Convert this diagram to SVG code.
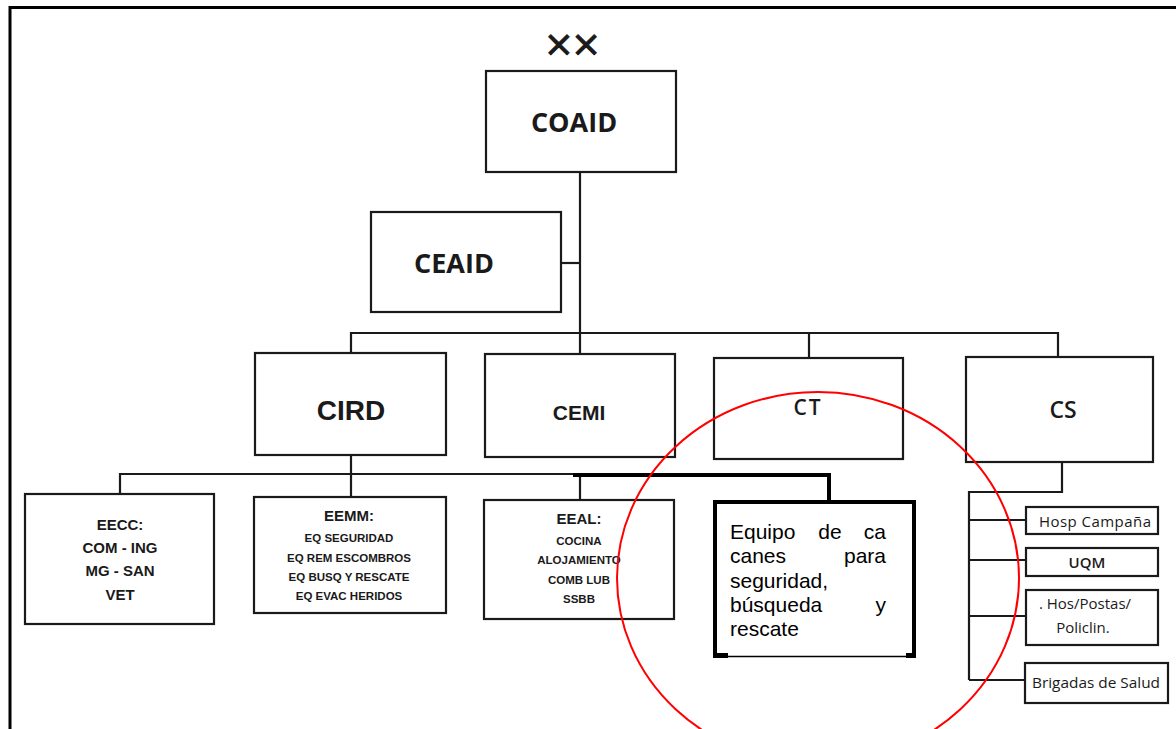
<svg xmlns="http://www.w3.org/2000/svg" width="1176" height="729" viewBox="0 0 1176 729">
<style>
.box{fill:#fff;stroke:#1a1a1a;stroke-width:2.2}
.ln{fill:none;stroke:#1a1a1a;stroke-width:2.2}
.cal{font-family:"Open Sans","Noto Sans",sans-serif;fill:#1a1a1a;text-anchor:middle}
.ar{font-family:"Liberation Sans",Arial,sans-serif;font-weight:bold;fill:#1a1a1a;text-anchor:middle}
.eq{font-family:"Liberation Sans",Arial,sans-serif;font-size:21px;fill:#000}
</style>
<rect width="1176" height="729" fill="#fff"/>
<path d="M10,729 V7.5 H1176" fill="none" stroke="#000" stroke-width="3"/>

<g id="connectors">
<path class="ln" d="M580,172 V354"/>
<path class="ln" d="M561,263 H580"/>
<path class="ln" d="M351,353 V333 H1058 V357"/>
<path class="ln" d="M809,333 V358"/>
<path class="ln" d="M351,455 V497"/>
<path class="ln" d="M120,494 V474 H580 V500"/>
<path d="M573,475 H829 V502" fill="none" stroke="#000" stroke-width="4"/>
<path class="ln" d="M1062,462 V492 H969 V680"/>
<path class="ln" d="M969,520 H1026 M969,560 H1026 M969,616 H1026 M969,680 H1025"/>
</g>

<g id="xx"><text x="571" y="56" font-size="36" font-family="DejaVu Sans,sans-serif" text-anchor="middle" letter-spacing="-3" fill="#1a1a1a" stroke="#1a1a1a" stroke-width="1">××</text></g>

<g id="coaid"><rect class="box" x="486" y="71" width="190" height="101"/><text class="cal" x="574" y="132" font-size="27" font-weight="bold">COAID</text></g>
<g id="ceaid"><rect class="box" x="371" y="212" width="190" height="100"/><text class="cal" x="454" y="273" font-size="27" font-weight="bold">CEAID</text></g>
<g id="cird"><rect class="box" x="255" y="353" width="191" height="102"/><text class="ar" x="351" y="420" font-size="28">CIRD</text></g>
<g id="cemi"><rect class="box" x="485" y="354" width="190" height="103"/><text class="ar" x="579" y="420" font-size="21">CEMI</text></g>
<g id="ct"><rect class="box" x="714" y="358" width="189" height="101"/><text class="cal" x="808" y="415" font-size="21" font-weight="600" letter-spacing="2">CT</text></g>
<g id="cs"><rect class="box" x="966" y="357" width="187" height="105"/><text class="cal" x="1063" y="418" font-size="23" font-weight="600">CS</text></g>

<g id="eecc"><rect class="box" x="25" y="494" width="189" height="130"/>
<text class="ar" font-size="15"><tspan x="120" y="530">EECC:</tspan><tspan x="120" y="553">COM - ING</tspan><tspan x="120" y="576">MG - SAN</tspan><tspan x="120" y="600">VET</tspan></text></g>

<g id="eemm"><rect class="box" x="254" y="497" width="192" height="116"/>
<text class="ar" x="349" y="521" font-size="15">EEMM:</text>
<text class="ar" font-size="11.5"><tspan x="349" y="542">EQ SEGURIDAD</tspan><tspan x="349" y="562">EQ REM ESCOMBROS</tspan><tspan x="349" y="581">EQ BUSQ Y RESCATE</tspan><tspan x="349" y="600">EQ EVAC HERIDOS</tspan></text></g>

<g id="eeal"><rect class="box" x="484" y="500" width="190" height="119"/>
<text class="ar" x="579" y="524" font-size="15">EEAL:</text>
<text class="ar" font-size="11.5"><tspan x="579" y="545">COCINA</tspan><tspan x="579" y="564">ALOJAMIENTO</tspan><tspan x="579" y="584">COMB LUB</tspan><tspan x="579" y="603">SSBB</tspan></text></g>

<g id="equipo">
<rect x="715" y="502" width="199" height="155" fill="#fff"/>
<path d="M715,657 V502 H914 V657" fill="none" stroke="#000" stroke-width="4"/>
<path d="M715,656.5 H914" stroke="#000" stroke-width="1.5"/>
<rect x="713" y="653" width="15" height="5" fill="#000"/>
<rect x="906" y="653" width="10" height="5" fill="#000"/>
<text class="eq" x="730" y="539">Equipo</text><text class="eq" x="830" y="539" text-anchor="middle">de</text><text class="eq" x="886" y="539" text-anchor="end">ca</text>
<text class="eq" x="730" y="563">canes</text><text class="eq" x="886" y="563" text-anchor="end">para</text>
<text class="eq" x="730" y="588">seguridad,</text>
<text class="eq" x="730" y="612">búsqueda</text><text class="eq" x="886" y="612" text-anchor="end">y</text>
<text class="eq" x="730" y="636">rescate</text>
</g>

<g id="hosp"><rect class="box" x="1026" y="507" width="132" height="27"/><text class="cal" x="1095" y="527" font-size="15" textLength="112" lengthAdjust="spacing">Hosp Campaña</text></g>
<g id="uqm"><rect class="box" x="1026" y="548" width="132" height="28"/><text class="cal" x="1087" y="568" font-size="15" font-weight="600">UQM</text></g>
<g id="hospostas"><rect class="box" x="1026" y="590" width="132" height="55"/><text class="cal" x="1085" y="609" font-size="15">. Hos/Postas/</text><text class="cal" x="1083" y="633" font-size="15">Policlin.</text></g>
<g id="brigadas"><rect class="box" x="1025" y="663" width="143" height="40"/><text class="cal" x="1096" y="688" font-size="15" textLength="128" lengthAdjust="spacingAndGlyphs">Brigadas de Salud</text></g>

<ellipse cx="818" cy="578" rx="201" ry="186" fill="none" stroke="#f00" stroke-width="2"/>
</svg>
